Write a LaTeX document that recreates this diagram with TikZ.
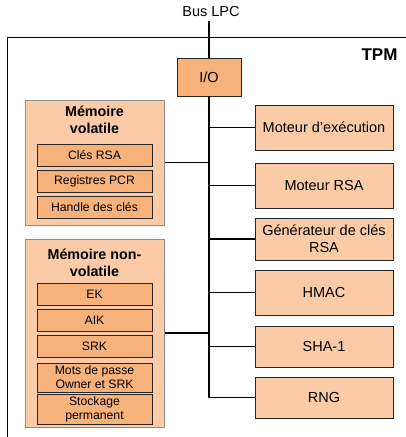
\documentclass[tikz,border=0pt]{standalone}
\usepackage{fontspec}
\setmainfont{Liberation Sans}
\usepackage{tikz}
\usetikzlibrary{positioning}
\definecolor{peach}{HTML}{FACBA6}
\definecolor{apricot}{HTML}{F7B27C}

\begin{document}
\begin{tikzpicture}[x=1pt, y=-1pt,
    bloc/.style={draw=black!85, line width=0.9pt, fill=peach, minimum width=138pt,
        inner sep=0pt, align=center, font=\fontsize{14.5}{17}\selectfont},
    memoire/.style={draw=black!45, line width=1pt, fill=peach, minimum width=139pt, inner sep=0pt},
    titre/.style={align=center, font=\bfseries\fontsize{14.3}{17}\selectfont},
    cle/.style={draw=black!85, line width=0.9pt, fill=apricot, minimum width=115pt,
        minimum height=22pt, inner sep=0pt, align=center, font=\fontsize{12.2}{14}\selectfont},
    lien/.style={line width=1.8pt}]
    \useasboundingbox (0,0) rectangle (406,437);

    % TPM frame
    \draw[line width=1pt] (406,37) -- (7,37) -- (7,437);
    \node[anchor=east, font=\bfseries\fontsize{17}{20}\selectfont] (tpm) at (401,55) {TPM};

    % Bus and I/O
    \node[font=\fontsize{14.5}{17}\selectfont] (bus) at (211,12) {Bus LPC};
    \node[bloc, fill=apricot, minimum width=64pt, minimum height=38pt] (io) at (209,77) {I/O};

    % Engines
    \node[bloc, minimum height=45pt] (moteur) at (324,127.5) {Moteur d’exécution};
    \node[bloc, minimum height=45pt] (rsa) at (324,185.5) {Moteur RSA};
    \node[bloc, minimum height=42pt] (gen) at (324,239) {Générateur de clés\\RSA};
    \node[bloc, minimum height=45pt] (hmac) at (324,292.5) {HMAC};
    \node[bloc, minimum height=41pt] (sha) at (324,346.5) {SHA-1};
    \node[bloc, minimum height=41pt] (rng) at (324,397.5) {RNG};

    % Volatile memory
    \node[memoire, minimum height=125pt] (volatile) at (94.5,162.5) {};
    \node[titre] (voltitre) at (94.5,119.5) {Mémoire\\volatile};
    \node[cle] (clesrsa) at (94.5,155) {Clés RSA};
    \node[cle] (pcr) at (94.5,181) {Registres PCR};
    \node[cle] (handle) at (94.5,207) {Handle des clés};

    % Non-volatile memory
    \node[memoire, minimum height=188pt] (nonvolatile) at (94.5,333) {};
    \node[titre] (nvtitre) at (94.5,262.5) {Mémoire non-\\volatile};
    \node[cle] (ek) at (94.5,294.5) {EK};
    \node[cle] (aik) at (94.5,320.5) {AIK};
    \node[cle] (srk) at (94.5,346.5) {SRK};
    \node[cle, minimum height=29pt] (mdp) at (94.5,377.5) {Mots de passe\\Owner et SRK};
    \node[cle, minimum height=30pt] (stockage) at (94.5,409) {Stockage\\permanent};

    % Connections
    \draw[lien] (io.north) -- (io.north |- bus.south);
    \draw[lien] (io.south) -- (io.south |- rng.west);
    \foreach \n in {moteur, rsa, gen, hmac, sha, rng}
        \draw[lien] (\n.west) -- (\n.west -| io.south);
    \foreach \n in {volatile, nonvolatile}
        \draw[lien] (\n.east) -- (\n.east -| io.south);
\end{tikzpicture}
\end{document}
